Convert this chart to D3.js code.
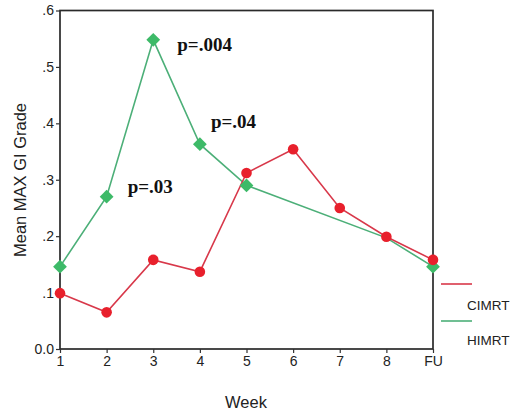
<!DOCTYPE html>
<html><head><meta charset="utf-8">
<script src="https://cdn.jsdelivr.net/npm/d3@7"></script>
<style>body{margin:0;background:#fff}svg{display:block}</style>
</head><body>
<script>
const weeks = ["1","2","3","4","5","6","7","8","FU"];
const cimrt = [0.099, 0.065, 0.158, 0.137, 0.312, 0.354, 0.250, 0.199, 0.158];
const himrt = [0.146, 0.270, 0.548, 0.363, 0.290, null, null, 0.197, 0.146];
const yTicks = [0, 0.1, 0.2, 0.3, 0.4, 0.5, 0.6];
const yTickLabels = ["0.0", ".1", ".2", ".3", ".4", ".5", ".6"];
const pLabels = [{week:"3", v:0.548, text:"p=.004"}, {week:"4", v:0.363, text:"p=.04"}, {week:"2", v:0.270, text:"p=.03"}];
const seriesNames = ["CIMRT", "HIMRT"];

const W = 513, H = 415;
const m = {left:60, right:433, top:10.5, bottom:349};
const svg = d3.select("body").append("svg").attr("width", W).attr("height", H);

const x = d3.scalePoint().domain(weeks).range([m.left, m.right]);
const y = d3.scaleLinear().domain([0, 0.6]).range([m.bottom, m.top]);

const redLine = "#d8384a", redMark = "#e8202c";
const greenLine = "#4caf78", greenMark = "#3dba68";

// frame
svg.append("rect").attr("x", m.left).attr("y", m.top).attr("width", m.right - m.left).attr("height", m.bottom - m.top)
  .attr("fill", "none").attr("stroke", "#2a2a2a").attr("stroke-width", 1.7);

const yAxis = d3.axisLeft(y).tickValues(yTicks).tickFormat((d,i) => yTickLabels[i]).tickSize(4).tickPadding(2);
const gy = svg.append("g").attr("transform", `translate(${m.left},0)`).call(yAxis);
gy.select(".domain").remove();
gy.selectAll("line").attr("stroke", "#333").attr("stroke-width", 1.2);
gy.selectAll("text").attr("font-family", "Liberation Sans, Arial, sans-serif").attr("font-size", 14).attr("fill", "#222");

const xAxis = d3.axisBottom(x).tickSize(4).tickPadding(3);
const gx = svg.append("g").attr("transform", `translate(0,${m.bottom})`).call(xAxis);
gx.select(".domain").remove();
gx.selectAll("line").attr("stroke", "#333").attr("stroke-width", 1.2);
gx.selectAll("text").attr("font-family", "Liberation Sans, Arial, sans-serif").attr("font-size", 14).attr("fill", "#222");

// axis titles
svg.append("text").attr("transform", `translate(26,180) rotate(-90)`).attr("text-anchor", "middle")
  .attr("font-family", "Liberation Sans, Arial, sans-serif").attr("font-size", 16.5).attr("fill", "#222").text("Mean MAX GI Grade");
svg.append("text").attr("x", 246).attr("y", 408).attr("text-anchor", "middle")
  .attr("font-family", "Liberation Sans, Arial, sans-serif").attr("font-size", 16.5).attr("fill", "#222").text("Week");

const line = d3.line().x(d => x(d.w)).y(d => y(d.v));
const cData = weeks.map((w,i) => ({w, v: cimrt[i]}));
const hData = weeks.map((w,i) => ({w, v: himrt[i]})).filter(d => d.v != null);

svg.append("path").datum(hData).attr("d", line).attr("fill", "none").attr("stroke", greenLine).attr("stroke-width", 1.6);
svg.append("path").datum(cData).attr("d", line).attr("fill", "none").attr("stroke", redLine).attr("stroke-width", 1.6);

svg.selectAll(".hm").data(hData.filter(d => d.w !== "8")).join("path")
  .attr("d", d3.symbol().type(d3.symbolSquare).size(95))
  .attr("transform", d => `translate(${x(d.w)},${y(d.v)}) rotate(45)`)
  .attr("fill", greenMark);
svg.selectAll(".cm").data(cData).join("circle")
  .attr("cx", d => x(d.w)).attr("cy", d => y(d.v)).attr("r", 5.3).attr("fill", redMark);

// p labels
const pOff = {"3":[24, 11], "4":[11, -16], "2":[21, -4]};
svg.selectAll(".pl").data(pLabels).join("text")
  .attr("x", d => x(d.week) + pOff[d.week][0]).attr("y", d => y(d.v) + pOff[d.week][1])
  .attr("font-family", "Liberation Serif, Times New Roman, serif").attr("font-weight", "bold").attr("font-size", 19)
  .attr("fill", "#111").text(d => d.text);

// legend
const leg = [{name: seriesNames[0], c: redLine, ly: 284, ty: 310}, {name: seriesNames[1], c: greenLine, ly: 321, ty: 345}];
leg.forEach(l => {
  svg.append("line").attr("x1", 441).attr("x2", 472).attr("y1", l.ly).attr("y2", l.ly).attr("stroke", l.c).attr("stroke-width", 1.6);
  svg.append("text").attr("x", 467).attr("y", l.ty).attr("font-family", "Liberation Sans, Arial, sans-serif")
    .attr("font-size", 13.5).attr("fill", "#222").text(l.name);
});
</script>
</body></html>
